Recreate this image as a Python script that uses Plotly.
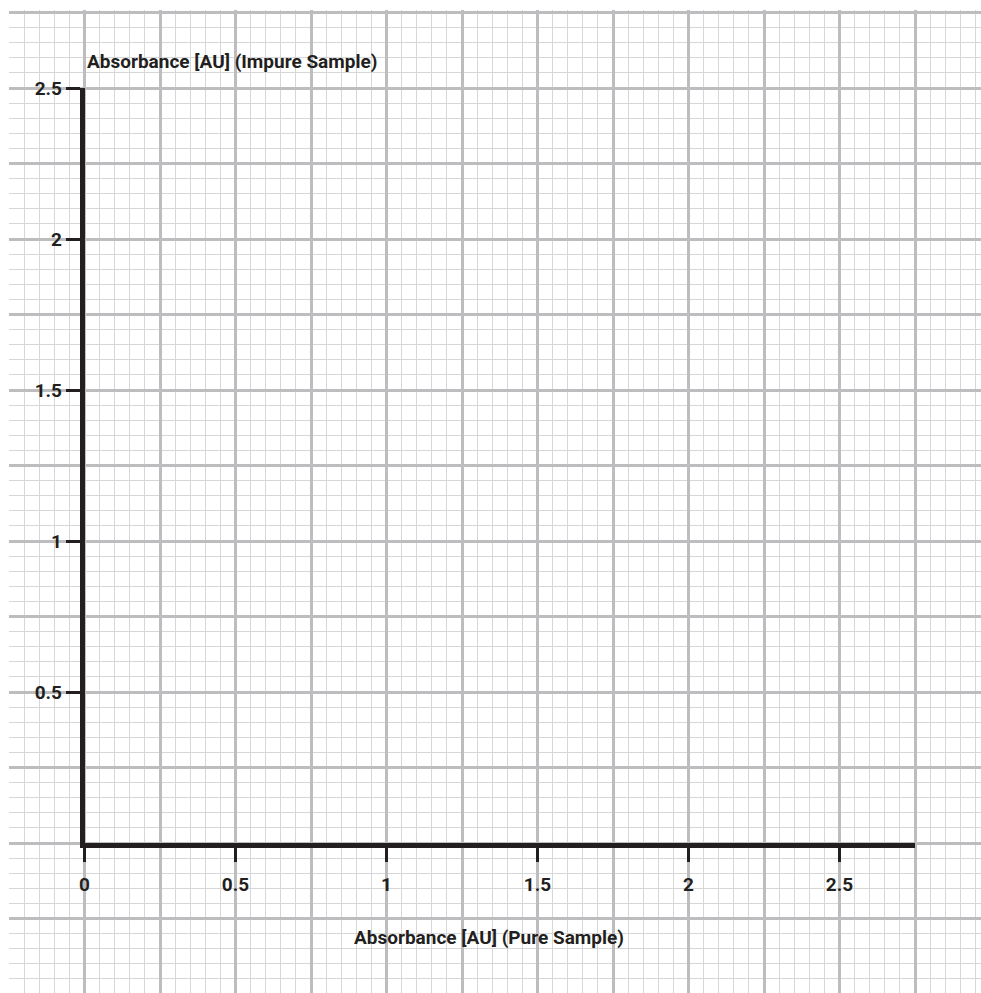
import plotly.graph_objects as go

# tick values / labels for the data axes
x_ticks = [0, 0.5, 1, 1.5, 2, 2.5]
x_labels = ["0", "0.5", "1", "1.5", "2", "2.5"]
y_ticks = [0.5, 1, 1.5, 2, 2.5]
y_labels = ["0.5", "1", "1.5", "2", "2.5"]
x_max = 2.75
y_max = 2.5
x_title = "Absorbance [AU] (Pure Sample)"
y_title = "Absorbance [AU] (Impure Sample)"

W, H = 981, 993
L, T = 9, 10
scale = 302.0          # px per unit on the graph paper
x0px, y0px = 84.5, 843  # where (0,0) sits on the page

ink = "#231f20"
font = dict(family="Roboto, Liberation Sans, sans-serif", size=19, color=ink, weight="bold")

pw, ph = W - L, H - T

fig = go.Figure()
# graph paper (x/y) and the drawn axes (x2/y2)
fig.add_trace(go.Scatter(x=[], y=[], xaxis="x", yaxis="y", showlegend=False))
fig.add_trace(go.Scatter(x=[], y=[], xaxis="x2", yaxis="y2", showlegend=False))

paper = dict(showgrid=True, dtick=0.25, tick0=0, gridcolor="#bdbdc0", gridwidth=2.5,
             minor=dict(dtick=0.05, tick0=0, showgrid=True, gridcolor="#d7d7d9", gridwidth=1.4),
             showticklabels=False, ticks="", zeroline=False, showline=False, fixedrange=True)

fig.update_layout(
    width=W, height=H,
    margin=dict(l=L, r=0, t=T, b=0, pad=0),
    paper_bgcolor="white", plot_bgcolor="rgba(0,0,0,0)",
    showlegend=False,
    xaxis=dict(paper, domain=[0, 1], anchor="y",
               range=[(L - x0px) / scale, (W - x0px) / scale]),
    yaxis=dict(paper, domain=[0, 1], anchor="x",
               range=[(y0px - H) / scale, (y0px - T) / scale]),
    xaxis2=dict(domain=[(x0px - L) / pw, (x0px + x_max * scale - L) / pw],
                range=[0, x_max], anchor="y2", showline=True, linewidth=4.5, linecolor=ink,
                ticks="outside", ticklen=14, tickwidth=3, tickcolor=ink,
                tickvals=x_ticks, ticktext=x_labels, tickfont=font, ticklabelstandoff=6,
                showgrid=False, zeroline=False, fixedrange=True),
    yaxis2=dict(domain=[(H - y0px) / ph, (H - (y0px - y_max * scale)) / ph],
                range=[0, y_max], anchor="x2", showline=True, linewidth=4.5, linecolor=ink,
                ticks="outside", ticklen=14, tickwidth=3, tickcolor=ink,
                tickvals=y_ticks, ticktext=y_labels, tickfont=font, ticklabelstandoff=0,
                showgrid=False, zeroline=False, fixedrange=True),
)

fig.add_annotation(text=y_title, xref="x2", yref="y2", x=0, y=y_max,
                   xanchor="left", yanchor="bottom", xshift=0, yshift=13,
                   showarrow=False, font=font)
fig.add_annotation(text=x_title, xref="x2", yref="y2", x=(489 - x0px) / scale, y=0,
                   xanchor="center", yanchor="middle", yshift=-94,
                   showarrow=False, font=font)

# drop the default body margin so the figure fills the window exactly
fig.write_html("out.html", config={"displayModeBar": False},
               post_script="document.body.style.margin='0';document.body.style.overflow='hidden';")
